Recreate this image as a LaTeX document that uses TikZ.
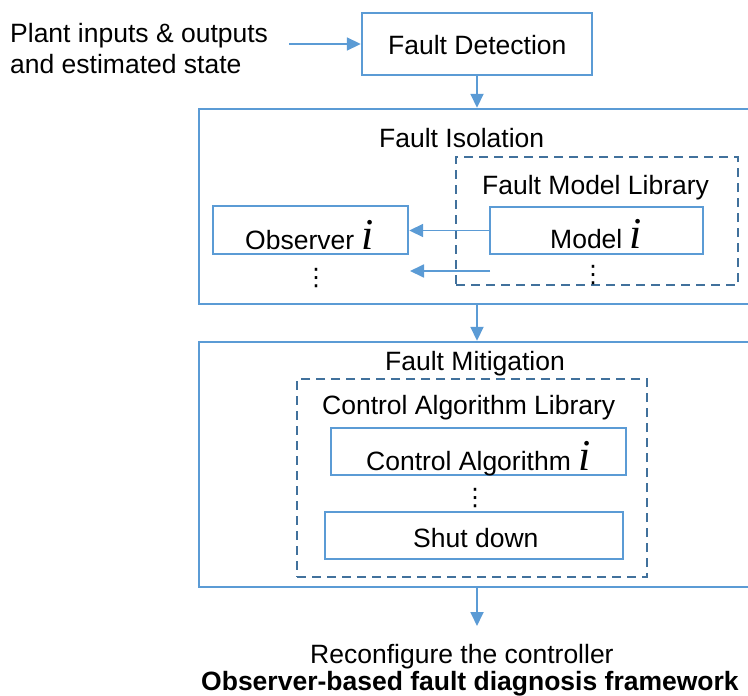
\documentclass[tikz,border=0pt]{standalone}
\usepackage{fontspec}
\setmainfont{Liberation Sans}
\newfontfamily\serifit{Liberation Serif}
\newfontfamily\dejavu{DejaVu Sans}
\usetikzlibrary{arrows.meta}
\definecolor{lineblue}{HTML}{5B9BD5}
\definecolor{dashblue}{HTML}{41719C}
\newcommand{\ii}{{\fontsize{44}{44}\selectfont\serifit\itshape i}}
\begin{document}
\begin{tikzpicture}[x=1pt,y=-1pt,
  box/.style={draw=lineblue, line width=2.4pt, inner sep=0pt},
  libbox/.style={draw=dashblue, line width=2.4pt, dash pattern=on 9pt off 6pt, inner sep=0pt},
  txt/.style={anchor=base west, inner sep=0pt, font=\fontsize{26.5}{31}\selectfont},
  arr/.style={draw=lineblue, line width=1.8pt, -{Triangle[length=14pt,width=13pt]}},
  dots/.style={inner sep=0pt, font=\fontsize{24}{24}\selectfont\dejavu}]
\useasboundingbox (0,0) rectangle (748,696);
% Input text
\node[txt] (plant1) at (10,42) {Plant inputs \& outputs};
\node[txt] (plant2) at (10,73) {and estimated state};
% Fault Detection
\node[box, minimum width=230pt, minimum height=62pt] (fd) at (477,44) {};
\node[txt] (fdt) at (388,54) {Fault Detection};
\coordinate (inS) at (289,44);
\draw[arr] (inS) -- (inS -| fd.west);
% Fault Isolation
\node[box, minimum width=561pt, minimum height=195pt] (fi) at (479.5,206.5) {};
\node[txt] (fit) at (379,147) {Fault Isolation};
\draw[arr] (fd.south) -- (fd.south |- fi.north);
\node[libbox, minimum width=282pt, minimum height=128pt] (fml) at (597,221) {};
\node[txt] (fmlt) at (482,194) {Fault Model Library};
\node[box, minimum width=213pt, minimum height=47pt] (model) at (596.5,230.5) {};
\node[txt] (modelt) at (550,248) {Model \ii};
\node[box, minimum width=195pt, minimum height=48pt] (obs) at (310.5,230) {};
\node[txt] (obst) at (245,249) {Observer \ii};
\draw[arr] (model.west) -- (model.west -| obs.east);
\coordinate (m2) at (490,271);
\coordinate (o2) at (410,271);
\draw[arr] (m2) -- (o2);
\node[dots] (d1) at (316,278) {⋮};
\node[dots] (d2) at (593,275) {⋮};
% Fault Mitigation
\node[box, minimum width=561pt, minimum height=245pt] (fm) at (479.5,464.5) {};
\draw[arr] (fd.south |- fi.south) -- (fd.south |- fm.north);
\node[txt] (fmt) at (385,370) {Fault Mitigation};
\node[libbox, minimum width=350pt, minimum height=198pt] (cal) at (472,478) {};
\node[txt] (calt) at (322,414) {Control Algorithm Library};
\node[box, minimum width=295pt, minimum height=47pt] (ca) at (478.5,451.5) {};
\node[txt] (cat) at (366,470) {Control Algorithm \ii};
\node[dots] (d3) at (475,498) {⋮};
\node[box, minimum width=298pt, minimum height=47pt] (sd) at (474,535.5) {};
\node[txt] (sdt) at (413,547) {Shut down};
% Output
\coordinate (outE) at (477,626);
\draw[arr] (fd.south |- fm.south) -- (outE);
\node[txt] (rc) at (310,663) {Reconfigure the controller};
\node[txt, font=\fontsize{26.5}{31}\selectfont\bfseries] (cap) at (201,690) {Observer-based fault diagnosis framework};
\end{tikzpicture}
\end{document}
